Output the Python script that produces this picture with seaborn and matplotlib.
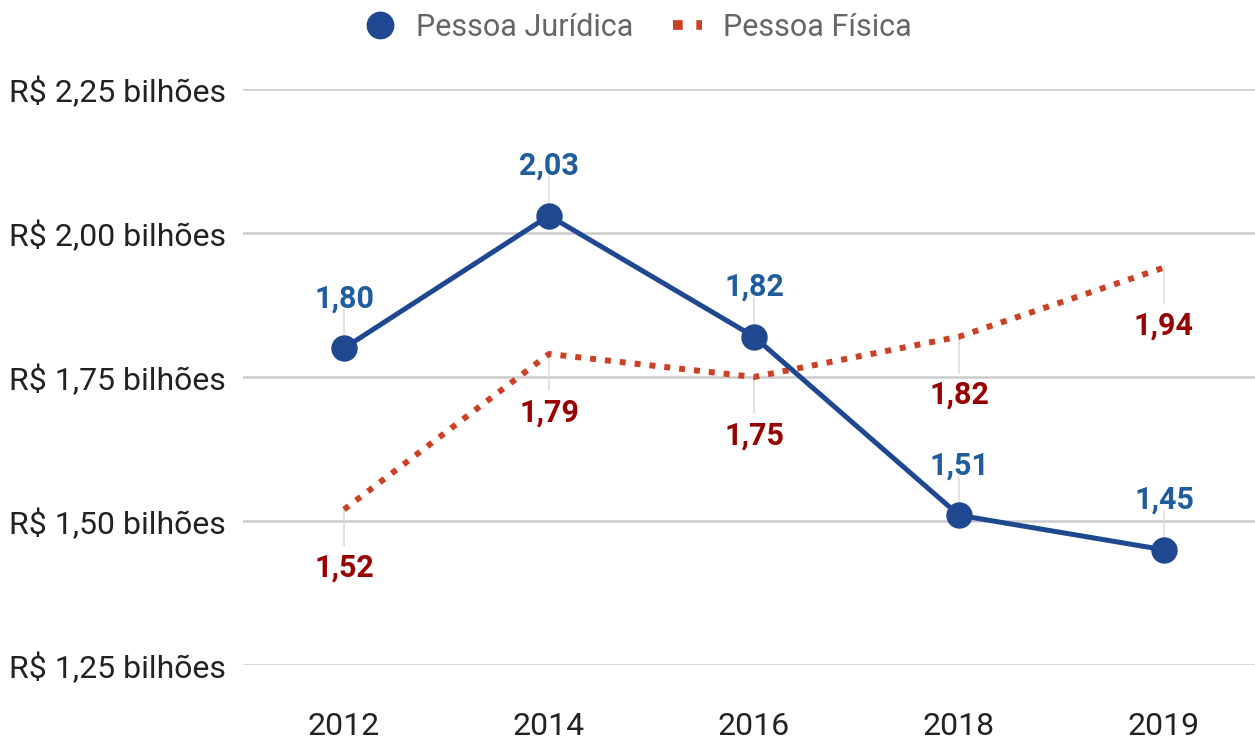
import pandas as pd
import seaborn as sns
import matplotlib.pyplot as plt
from matplotlib.lines import Line2D

anos = ["2012", "2014", "2016", "2018", "2019"]
pessoa_juridica = [1.80, 2.03, 1.82, 1.51, 1.45]
pessoa_fisica = [1.52, 1.79, 1.75, 1.82, 1.94]
y_ticks = [1.25, 1.50, 1.75, 2.00, 2.25]

azul = "#1f4891"
azul_txt = "#1f5d9e"
verm = "#cc4125"
verm_txt = "#990000"

sns.set_style("white")
plt.rcParams['font.family'] = ['Roboto', 'DejaVu Sans']

df = pd.DataFrame({"ano": anos, "pj": pessoa_juridica, "pf": pessoa_fisica})

fig = plt.figure(figsize=(12.55, 7.43), dpi=100)
ax = fig.add_axes([243 / 1255, 78 / 743, 1012 / 1255, 576 / 743])

sns.lineplot(data=df, x="ano", y="pf", ax=ax, color=verm, linewidth=4.3,
             linestyle=(0, (1, 1.5)), sort=False)
ax.lines[-1].set_dash_capstyle("butt")
sns.lineplot(data=df, x="ano", y="pj", ax=ax, color=azul, linewidth=3.6,
             marker="o", markersize=19, markeredgewidth=0, sort=False)

# rótulos dos pontos com linhas finas
for i, v in enumerate(pessoa_juridica):
    ax.annotate(f"{v:.2f}".replace(".", ","), (i, v), xytext=(0, 36),
                textcoords="offset points", ha="center", va="center",
                fontsize=22, fontweight="bold", color=azul_txt)
    ax.annotate("", (i, v), xytext=(0, 28), textcoords="offset points",
                arrowprops=dict(arrowstyle="-", color="#dddddd", lw=1.2,
                                shrinkA=0, shrinkB=0), zorder=1)
for i, v in enumerate(pessoa_fisica):
    ax.annotate(f"{v:.2f}".replace(".", ","), (i, v), xytext=(0, -42),
                textcoords="offset points", ha="center", va="center",
                fontsize=22, fontweight="bold", color=verm_txt)
    ax.annotate("", (i, v), xytext=(0, -26), textcoords="offset points",
                arrowprops=dict(arrowstyle="-", color="#dddddd", lw=1.2,
                                shrinkA=0, shrinkB=0), zorder=1)

ax.set_xlim(-0.493, 4.444)
ax.set_ylim(1.25, 2.25)
ax.set_yticks(y_ticks)
ax.set_yticklabels([f"R$ {t:.2f} bilhões".replace(".", ",") for t in y_ticks])
ax.yaxis.grid(True, color="#cccccc", linewidth=1.8)
ax.xaxis.grid(False)
ax.set_axisbelow(True)
ax.tick_params(axis="y", labelsize=23, length=0, pad=12, colors="#222222")
ax.tick_params(axis="x", labelsize=23, length=0, pad=34, colors="#222222")
ax.set_xlabel("")
ax.set_ylabel("")
sns.despine(ax=ax, left=True, bottom=True)

handles = [
    Line2D([], [], color=azul, marker="o", markersize=19, linestyle="none"),
    Line2D([], [], color=verm, linewidth=7, linestyle=(0, (1, 1.4)),
           dash_capstyle="butt"),
]
leg = fig.legend(handles, ["Pessoa Jurídica", "Pessoa Física"], loc="upper center",
                 bbox_to_anchor=(0.509, 1.02), ncol=2, frameon=False,
                 fontsize=22, handlelength=0.95, columnspacing=1.3, handletextpad=0.7)
for t in leg.get_texts():
    t.set_color("#666666")

fig.savefig("out.png", dpi=100)
